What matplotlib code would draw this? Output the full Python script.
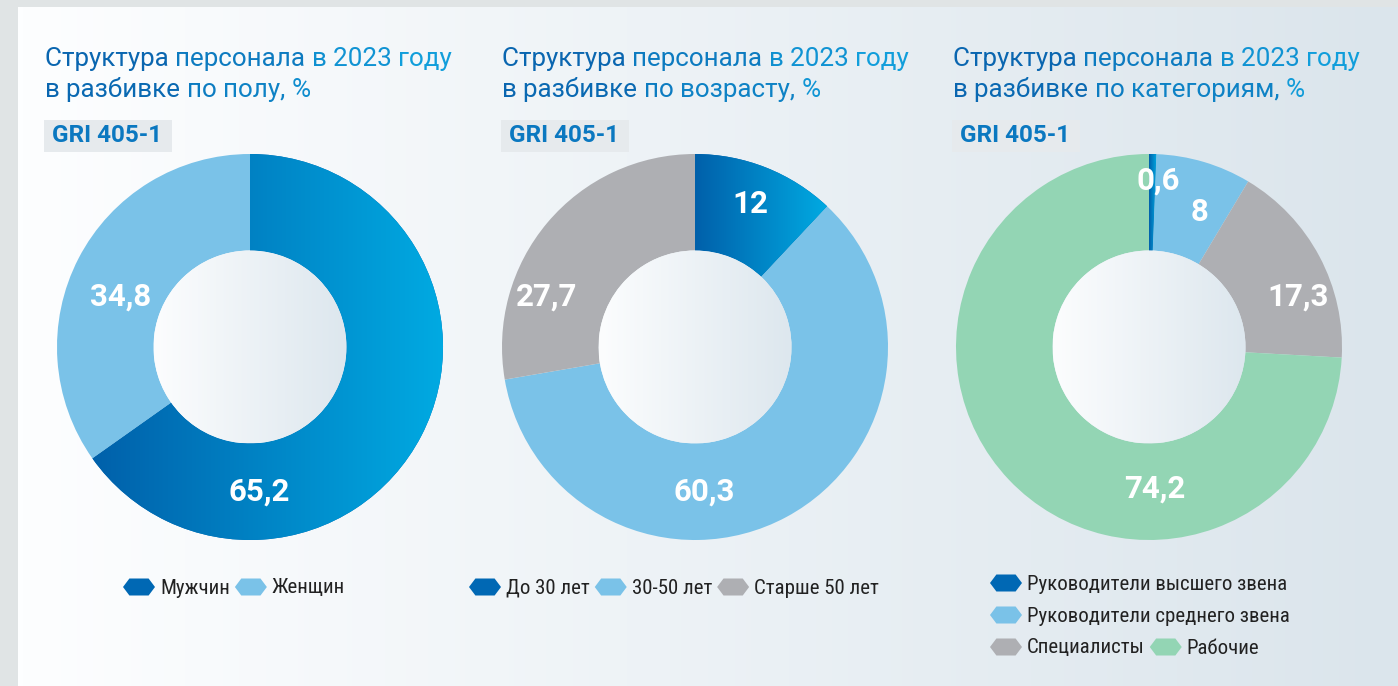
import numpy as np
import matplotlib.pyplot as plt
from matplotlib import font_manager
from matplotlib.patches import Rectangle, Polygon, Circle
from matplotlib.colors import LinearSegmentedColormap

######### Data ############
titles = ["Структура персонала в 2023 году\nв разбивке по полу, %",
          "Структура персонала в 2023 году\nв разбивке по возрасту, %",
          "Структура персонала в 2023 году\nв разбивке по категориям, %"]
badge = "GRI 405-1"

gender_labels = ["Мужчин", "Женщин"]
gender_values = [65.2, 34.8]
gender_text = ["65,2", "34,8"]

age_labels = ["До 30 лет", "30-50 лет", "Старше 50 лет"]
age_values = [12, 60.3, 27.7]
age_text = ["12", "60,3", "27,7"]

cat_labels = ["Руководители высшего звена", "Руководители среднего звена",
              "Специалисты", "Рабочие"]
cat_values = [0.6, 8, 17.3, 74.2]
cat_text = ["0,6", "8", "17,3", "74,2"]

######### Styles / layout ############
W, H = 1398, 686
DARK, LIGHT, GREY, GREEN = "#0068b4", "#7ac2e8", "#aeafb3", "#93d5b4"
dark_cmap = LinearSegmentedColormap.from_list("dk", ["#0060aa", "#00aae2"])
panel_cmap = LinearSegmentedColormap.from_list("pn", ["#fdfeff", "#dbe5ec"])
hole_cmap = LinearSegmentedColormap.from_list("hl", ["#fcfdfe", "#dde7ee"])
title_cmap = LinearSegmentedColormap.from_list("tt", ["#0a66b0", "#12a5e0"])

# narrow font for the legend, if there is one
legend_font, legend_size = "Roboto", 13
for fam, size in [("Roboto Condensed", 15), ("Liberation Sans Narrow", 15),
                  ("Noto Sans Condensed", 14)]:
    try:
        font_manager.findfont(font_manager.FontProperties(family=fam), fallback_to_default=False)
        legend_font, legend_size = fam, size
        break
    except ValueError:
        pass

R = 193  # outer radius in px
centers = [(250, 347), (695, 347), (1149, 347)]
title_x = [45, 502, 953]
# label positions in units of the outer radius
label_pos = [[(0.05, -0.75), (-0.67, 0.26)],
             [(0.285, 0.74), (0.047, -0.75), (-0.77, 0.26)],
             [(0.047, 0.86), (0.26, 0.70), (0.77, 0.26), (0.03, -0.736)]]

charts = [(gender_values, gender_text, [DARK, LIGHT], gender_labels),
          (age_values, age_text, [DARK, LIGHT, GREY], age_labels),
          (cat_values, cat_text, [DARK, LIGHT, GREY, GREEN], cat_labels)]
# legend rows: (list of item indices, y of row center)
legend_rows = [[([0, 1], 587)],
               [([0, 1, 2], 587)],
               [([0], 583), ([1], 615), ([2, 3], 647)]]
legend_x = [123, 469, 990]

fig = plt.figure(figsize=(W / 100, H / 100), dpi=100)
fig.patch.set_facecolor("#e0e4e5")
bg = fig.add_axes([0, 0, 1, 1])
bg.set_xlim(0, W)
bg.set_ylim(0, H)
bg.axis("off")

# panel with horizontal gradient
grad = np.linspace(0, 1, 256).reshape(1, -1)
bg.imshow(grad, cmap=panel_cmap, extent=[18, W, 0, H - 7], aspect="auto", zorder=1)

renderer = fig.canvas.get_renderer()


def px_width(t):
    return t.get_window_extent(renderer).width


def hexagon(x, yc, color, w=32, h=17):
    pts = [(x, yc), (x + w * 0.2, yc + h / 2), (x + w * 0.8, yc + h / 2),
           (x + w, yc), (x + w * 0.8, yc - h / 2), (x + w * 0.2, yc - h / 2)]
    bg.add_patch(Polygon(pts, closed=True, facecolor=color, edgecolor="none", zorder=3))


for k, (vals, txts, cols, labs) in enumerate(charts):
    x0 = title_x[k]
    # title, word-by-word coloured to mimic the gradient
    for li, line in enumerate(titles[k].split("\n")):
        x = x0
        y = H - 66 - li * 31
        for word in line.split(" "):
            frac = min((x - x0) / 400, 1)
            t = bg.text(x, y, word + " ", fontsize=18.7, family="Roboto",
                        color=title_cmap(frac), va="baseline", ha="left", zorder=4)
            x += px_width(t)
    # GRI badge
    bg.add_patch(Rectangle((x0 - 1, H - 152), 128, 32, facecolor="#e6eaed",
                           edgecolor="none", zorder=2))
    bg.text(x0 + 7, H - 136, badge, fontsize=17.5, family="Roboto", weight="bold",
            color="#0b78c0", va="center", ha="left", zorder=4)

    # donut
    cx, cy = centers[k]
    ax = fig.add_axes([(cx - 1.05 * R) / W, (H - cy - 1.05 * R) / H, 2.1 * R / W, 2.1 * R / H])
    ax.axis("off")
    wedges, _ = ax.pie(vals, colors=cols, startangle=90, counterclock=False,
                       radius=1, wedgeprops=dict(width=0.5, edgecolor="none"))
    # gradient on the dark wedge
    wd = wedges[0]
    bb = wd.get_path().get_extents(wd.get_patch_transform())
    im = ax.imshow(grad, cmap=dark_cmap, extent=[bb.x0, bb.x1, bb.y0, bb.y1],
                   aspect="auto", zorder=2)
    im.set_clip_path(wd)
    hole = Circle((0, 0), 0.5, facecolor="none", edgecolor="none")
    ax.add_patch(hole)
    him = ax.imshow(grad, cmap=hole_cmap, extent=[-0.5, 0.5, -0.5, 0.5], aspect="auto", zorder=2)
    him.set_clip_path(hole)
    ax.set_xlim(-1.05, 1.05)
    ax.set_ylim(-1.05, 1.05)
    for (lx, ly), s in zip(label_pos[k], txts):
        ax.text(lx, ly, s, fontsize=22.5, family="Roboto", weight="bold", color="white",
                ha="center", va="center", zorder=5)

    # legend
    for idx, yrow in legend_rows[k]:
        x = legend_x[k]
        y = H - yrow
        for i in idx:
            hexagon(x, y, cols[i])
            t = bg.text(x + 37, y - 1, labs[i], fontsize=legend_size,
                        family=[legend_font, "DejaVu Sans"],
                        color="#222222", va="center", ha="left", zorder=4)
            x += 37 + px_width(t) + 5

fig.savefig("out.png", dpi=100, facecolor=fig.get_facecolor())
